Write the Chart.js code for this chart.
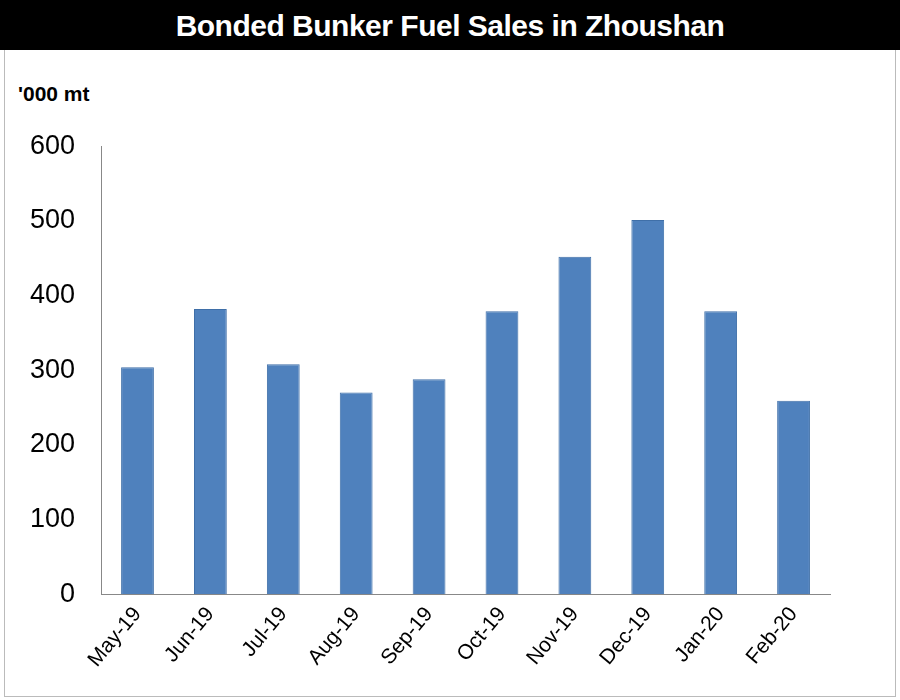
<!DOCTYPE html>
<html>
<head>
<meta charset="utf-8">
<script src="https://cdn.jsdelivr.net/npm/chart.js@4"></script>
<style>
  body { margin: 0; background: #fff; font-family: "Liberation Sans", Arial, sans-serif; }
  #title { position: absolute; left: 0; top: 0; width: 900px; height: 50px; background: #000; color: #fff;
           font-weight: bold; font-size: 30px; text-align: center; line-height: 52px; letter-spacing: -0.5px; }
  #frame { position: absolute; left: 4px; top: 50px; width: 890px; height: 646px; border: 1px solid #bbb; border-top: none; }
  #unit { position: absolute; left: 18px; top: 82px; font-weight: bold; font-size: 21px; }
  #wrap { position: absolute; left: 0; top: 110px; width: 860px; height: 570px; }
</style>
</head>
<body>
<div id="title">Bonded Bunker Fuel Sales in Zhoushan</div>
<div id="frame"></div>
<div id="unit">'000 mt</div>
<div id="wrap"><canvas id="c"></canvas></div>
<script>
const months = ['May-19', 'Jun-19', 'Jul-19', 'Aug-19', 'Sep-19', 'Oct-19', 'Nov-19', 'Dec-19', 'Jan-20', 'Feb-20'];
const sales = [304, 382, 308, 270, 288, 379, 452, 501, 379, 259];

new Chart(document.getElementById('c'), {
    type: 'bar',
    data: {
        labels: months,
        datasets: [{
            data: sales,
            backgroundColor: '#4f81bd',
            borderColor: '#3f6fa8',
            borderWidth: 1,
            barPercentage: 0.45,
            categoryPercentage: 1
        }]
    },
    options: {
        responsive: true,
        maintainAspectRatio: false,
        animation: false,
        layout: { padding: { left: 10, top: 25, right: 30 } },
        plugins: { legend: { display: false }, tooltip: { enabled: false } },
        scales: {
            x: {
                grid: { display: false, drawTicks: false },
                border: { color: '#888' },
                ticks: { color: '#000', font: { size: 21, family: 'Liberation Sans' }, maxRotation: 50, minRotation: 50, padding: 8 }
            },
            y: {
                min: 0, max: 600,
                grid: { display: false, tickLength: 6, drawTicks: true },
                border: { color: '#888' },
                ticks: { stepSize: 100, color: '#000', font: { size: 27, family: 'Liberation Sans' }, padding: 20 }
            }
        }
    }
});
</script>
</body>
</html>
